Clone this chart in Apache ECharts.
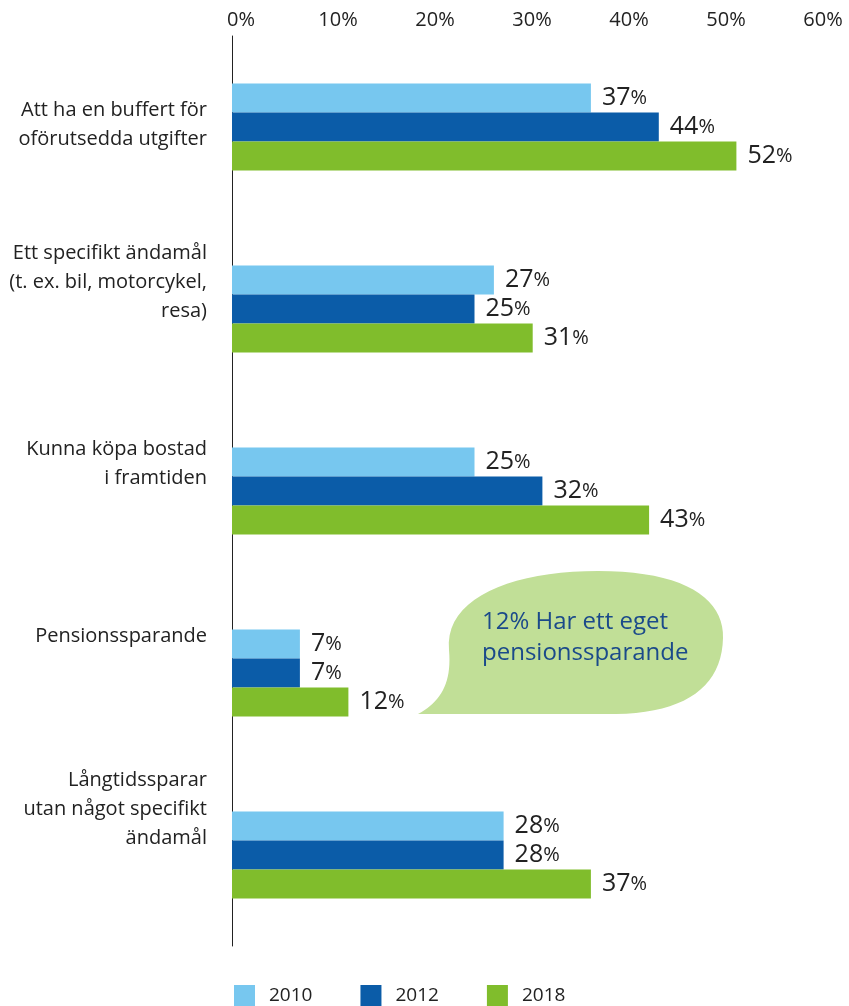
<!DOCTYPE html>
<html>
<head>
<meta charset="utf-8">
<script src="https://cdn.jsdelivr.net/npm/echarts@6/dist/echarts.min.js"></script>
<style>
  html, body { margin: 0; padding: 0; background: #fff; }
  #chart { width: 849px; height: 1006px; }
</style>
</head>
<body>
<div id="chart"></div>
<script>
// data
const categories = [
  'Att ha en buffert för\noförutsedda utgifter',
  'Ett specifikt ändamål\n(t. ex. bil, motorcykel,\nresa)',
  'Kunna köpa bostad\ni framtiden',
  'Pensionssparande',
  'Långtidssparar\nutan något specifikt\nändamål'
]
const years = ['2010', '2012', '2018']
const values2010 = [37, 27, 25, 7, 28]
const values2012 = [44, 25, 32, 7, 28]
const values2018 = [52, 31, 43, 12, 37]
const xTicks = [0, 10, 20, 30, 40, 50, 60]
const bubbleText = '12% Har ett eget\npensionssparande'

const colors = ['#77c7ef', '#0b5ca8', '#80bd2c']
const font = 'Open Sans'
// how far each category label sits above its bar group (px)
const labelLift = [2, 27, 27, 37, 46]

const chart = echarts.init(document.getElementById('chart'))

const valueLabel = {
  show: true,
  position: 'right',
  distance: 11,
  formatter: p => '{n|' + p.value + '}{p|%}',
  rich: {
    n: { fontFamily: font, fontSize: 25, color: '#222' },
    p: { fontFamily: font, fontSize: 20, color: '#222' }
  }
}

const seriesData = [values2010, values2012, values2018]

// rich styles for the category labels; a trailing spacer line lifts each label
const catRich = { t: { fontFamily: font, fontSize: 20, lineHeight: 29, color: '#222', align: 'right' } }
labelLift.forEach((l, i) => {
  catRich['s' + i] = { fontSize: 1, lineHeight: l * 2 }
})

// speech bubble outline, sampled from cubic curves
function bubblePoints () {
  const segs = [
    [[418, 714], [440, 702], [452, 684], [449, 650]],
    [[449, 650], [444, 598], [512, 571], [598, 571]],
    [[598, 571], [684, 571], [724, 598], [723, 638]],
    [[723, 638], [722, 686], [686, 713], [616, 714]]
  ]
  const pts = []
  segs.forEach(s => {
    for (let i = 0; i <= 20; i++) {
      const t = i / 20, u = 1 - t
      pts.push([
        u * u * u * s[0][0] + 3 * u * u * t * s[1][0] + 3 * u * t * t * s[2][0] + t * t * t * s[3][0],
        u * u * u * s[0][1] + 3 * u * u * t * s[1][1] + 3 * u * t * t * s[2][1] + t * t * t * s[3][1]
      ])
    }
  })
  return pts
}

chart.setOption({
  animation: false,
  color: colors,
  textStyle: { fontFamily: font },
  grid: {
    left: 232,
    right: 35,
    top: 36,
    height: 910
  },
  legend: {
    data: years,
    left: 234,
    top: 985,
    padding: 0,
    icon: 'rect',
    itemWidth: 21,
    itemHeight: 21,
    itemGap: 48,
    textStyle: { fontSize: 19, color: '#222', padding: [0, 0, 0, 9] }
  },
  xAxis: {
    type: 'value',
    position: 'top',
    min: xTicks[0],
    max: xTicks[xTicks.length - 1],
    interval: 10,
    axisLine: { show: false },
    axisTick: { show: false },
    splitLine: { show: false },
    axisLabel: {
      formatter: v => v + '%',
      fontSize: 20,
      color: '#222',
      margin: 6,
      padding: [0, 0, 0, 18]
    }
  },
  yAxis: {
    type: 'category',
    data: categories,
    inverse: true,
    axisLine: { show: true, lineStyle: { color: '#222', width: 1 } },
    axisTick: { show: false },
    axisLabel: {
      margin: 25,
      align: 'right',
      formatter: (v, i) => v.split('\n').map(l => '{t|' + l + '}').join('\n') + '\n{s' + i + '| }',
      rich: catRich
    }
  },
  series: years.map((y, i) => ({
    name: y,
    type: 'bar',
    data: seriesData[i],
    barWidth: 29,
    barGap: '0%',
    label: valueLabel
  })),
  graphic: [
    {
      type: 'polygon',
      z: 10,
      shape: { points: bubblePoints() },
      style: { fill: '#c1df97' }
    },
    {
      type: 'text',
      z: 11,
      x: 482,
      y: 607,
      style: {
        text: bubbleText,
        font: '24px "Open Sans"',
        fill: '#1b4a8a',
        lineHeight: 31
      }
    }
  ]
})
</script>
</body>
</html>
